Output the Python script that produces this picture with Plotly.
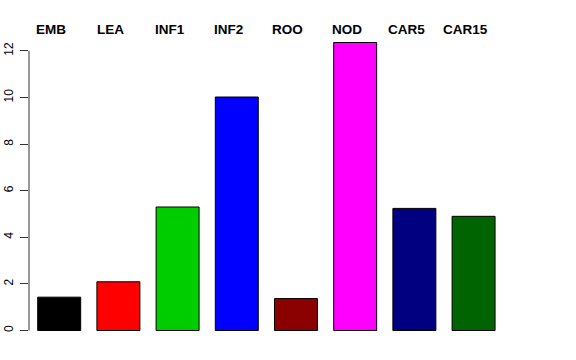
import plotly.graph_objects as go

categories = ["EMB", "LEA", "INF1", "INF2", "ROO", "NOD", "CAR5", "CAR15"]
values = [1.43, 2.09, 5.30, 10.02, 1.37, 12.36, 5.24, 4.90]
colors = ["#000000", "#FF0000", "#00CD00", "#0000FF", "#8B0000", "#FF00FF", "#000080", "#006400"]
y_ticks = [0, 2, 4, 6, 8, 10, 12]

fig = go.Figure()
fig.add_trace(go.Bar(
    x=categories, y=values,
    marker=dict(color=colors, line=dict(color="#000000", width=1)),
    showlegend=False, hoverinfo="x+y",
))

for c in categories:
    fig.add_annotation(
        x=c, y=1, xref="x", yref="paper", text=f"<b>{c}</b>",
        showarrow=False, yanchor="middle", xanchor="center", xshift=-8, yshift=1.5,
        font=dict(family="Liberation Sans, Arial, sans-serif", size=13.5, color="#000000"),
    )

# R-style axis line spanning only the tick range
fig.add_shape(type="line", xref="paper", yref="y", x0=0, x1=0,
              y0=y_ticks[0], y1=y_ticks[-1], line=dict(color="#333333", width=1))

fig.update_layout(
    width=576, height=360,
    margin=dict(l=29, r=73, t=31, b=18, autoexpand=False),
    paper_bgcolor="white", plot_bgcolor="white",
    bargap=0.274,
    font=dict(family="Liberation Sans, Arial, sans-serif", size=12, color="#000000"),
    xaxis=dict(range=[-0.510, 7.497], showticklabels=False, showgrid=False,
               zeroline=False, showline=False, ticks="", automargin=False),
    yaxis=dict(range=[-0.494, 12.854], tickvals=y_ticks, ticktext=[str(v) for v in y_ticks],
               tickangle=-90, ticks="outside", ticklen=8, tickcolor="#333333", tickwidth=1,
               showgrid=False, zeroline=False, showline=False, automargin=False,
               tickfont=dict(size=12, color="#000000"), ticklabelstandoff=2),
)

fig.write_html("out.html", config={"displayModeBar": False},
               post_script="document.body.style.margin='0';")
